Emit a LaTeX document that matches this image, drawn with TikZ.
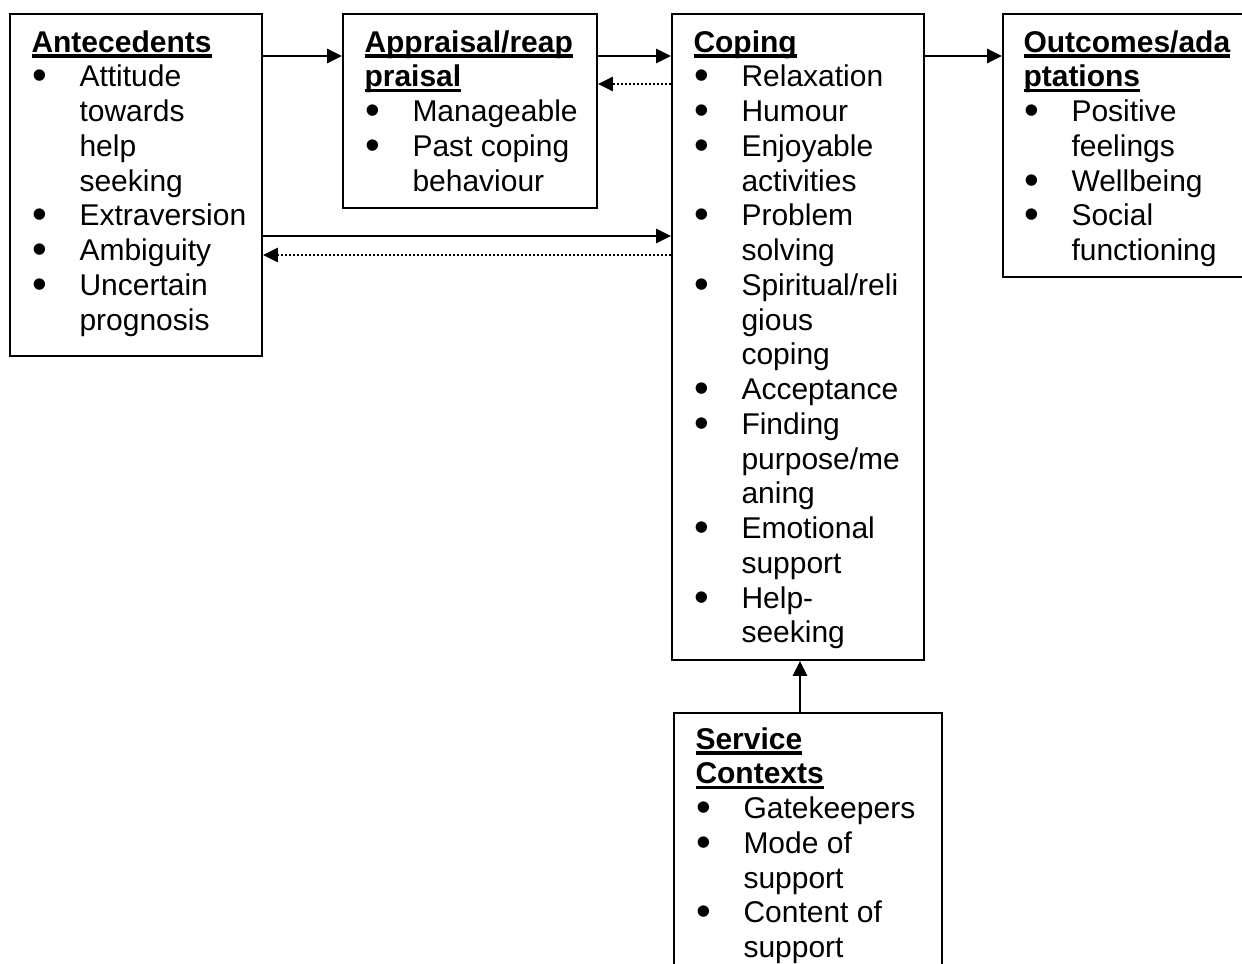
\documentclass[tikz,border=0pt]{standalone}
\usepackage{fontspec}
\setmainfont{Liberation Sans}
\usepackage{graphicx}
\usetikzlibrary{arrows.meta,fit}

% underlined bold heading line
\newcommand\hd[1]{\leavevmode\setbox0\hbox{\bfseries #1}\rlap{\rule[-2.2pt]{\wd0}{1.5pt}}\box0\par}
% bullet glyph
\newcommand\bdot{\raisebox{-1.2pt}{\scalebox{1.4}{\textbullet}}}
% bulleted line and its continuation
\newcommand\itm[1]{\leavevmode\makebox[19.2pt][l]{\hspace{0.3pt}\bdot}#1\par}
\newcommand\cnt[1]{\leavevmode\hspace*{19.2pt}#1\par}
% block of lines, baseline at the first line
\newcommand\blk[1]{\parbox[t]{180pt}{\fontsize{12pt}{13.9pt}\selectfont\parindent0pt #1}}

\begin{document}
\begin{tikzpicture}[x=0.4pt,y=-0.4pt,
  box/.style={draw, line width=0.75pt, inner sep=0pt},
  arr/.style={line width=1.05pt, -{Triangle[length=6pt,width=5.6pt]}},
  darr/.style={arr, dash pattern=on 0.8pt off 0.8pt},
  txt/.style={anchor=base west, inner sep=0pt}]
\useasboundingbox (0,0) rectangle (1242,963);
\clip (0,0) rectangle (1242,963);

% boxes
\node[box, fit={(10,14) (262,356)}]  (ante) {};
\node[box, fit={(343,14) (597,208)}] (appr) {};
\node[box, fit={(672,14) (924,660)}] (cope) {};
\node[box, fit={(1003,14) (1260,277)}] (outc) {};
\node[box, fit={(674,713) (942,1000)}] (serv) {};

% texts
\node[txt] (anteT) at (31,52) {\blk{%
  \hd{Antecedents}
  \itm{Attitude}\cnt{towards}\cnt{help}\cnt{seeking}
  \itm{Extraversion}
  \itm{Ambiguity}
  \itm{Uncertain}\cnt{prognosis}}};
\node[txt] (apprT) at (364,52) {\blk{%
  \hd{Appraisal/reap}\hd{praisal}
  \itm{Manageable}
  \itm{Past coping}\cnt{behaviour}}};
\node[txt] (copeT) at (693,52) {\blk{%
  \hd{Coping}
  \itm{Relaxation}
  \itm{Humour}
  \itm{Enjoyable}\cnt{activities}
  \itm{Problem}\cnt{solving}
  \itm{Spiritual/reli}\cnt{gious}\cnt{coping}
  \itm{Acceptance}
  \itm{Finding}\cnt{purpose/me}\cnt{aning}
  \itm{Emotional}\cnt{support}
  \itm{Help-}\cnt{seeking}}};
\node[txt] (outcT) at (1023,52) {\blk{%
  \hd{Outcomes/ada}\hd{ptations}
  \itm{Positive}\cnt{feelings}
  \itm{Wellbeing}
  \itm{Social}\cnt{functioning}}};
\node[txt] (servT) at (695,749) {\blk{%
  \hd{Service}\hd{Contexts}
  \itm{Gatekeepers}
  \itm{Mode of}\cnt{support}
  \itm{Content of}\cnt{support}}};

% connector heights
\coordinate (rowA) at (0,56);
\coordinate (rowB) at (0,84);
\coordinate (rowC) at (0,236);
\coordinate (rowD) at (0,255);
\coordinate (colS) at (800,0);

% connectors
\draw[arr]  (ante.east |- rowA) -- (appr.west |- rowA);
\draw[arr]  (appr.east |- rowA) -- (cope.west |- rowA);
\draw[darr] (cope.west |- rowB) -- (appr.east |- rowB);
\draw[arr]  (cope.east |- rowA) -- (outc.west |- rowA);
\draw[arr]  (ante.east |- rowC) -- (cope.west |- rowC);
\draw[darr] (cope.west |- rowD) -- (ante.east |- rowD);
\draw[arr]  (serv.north -| colS) -- (cope.south -| colS);
\end{tikzpicture}
\end{document}
